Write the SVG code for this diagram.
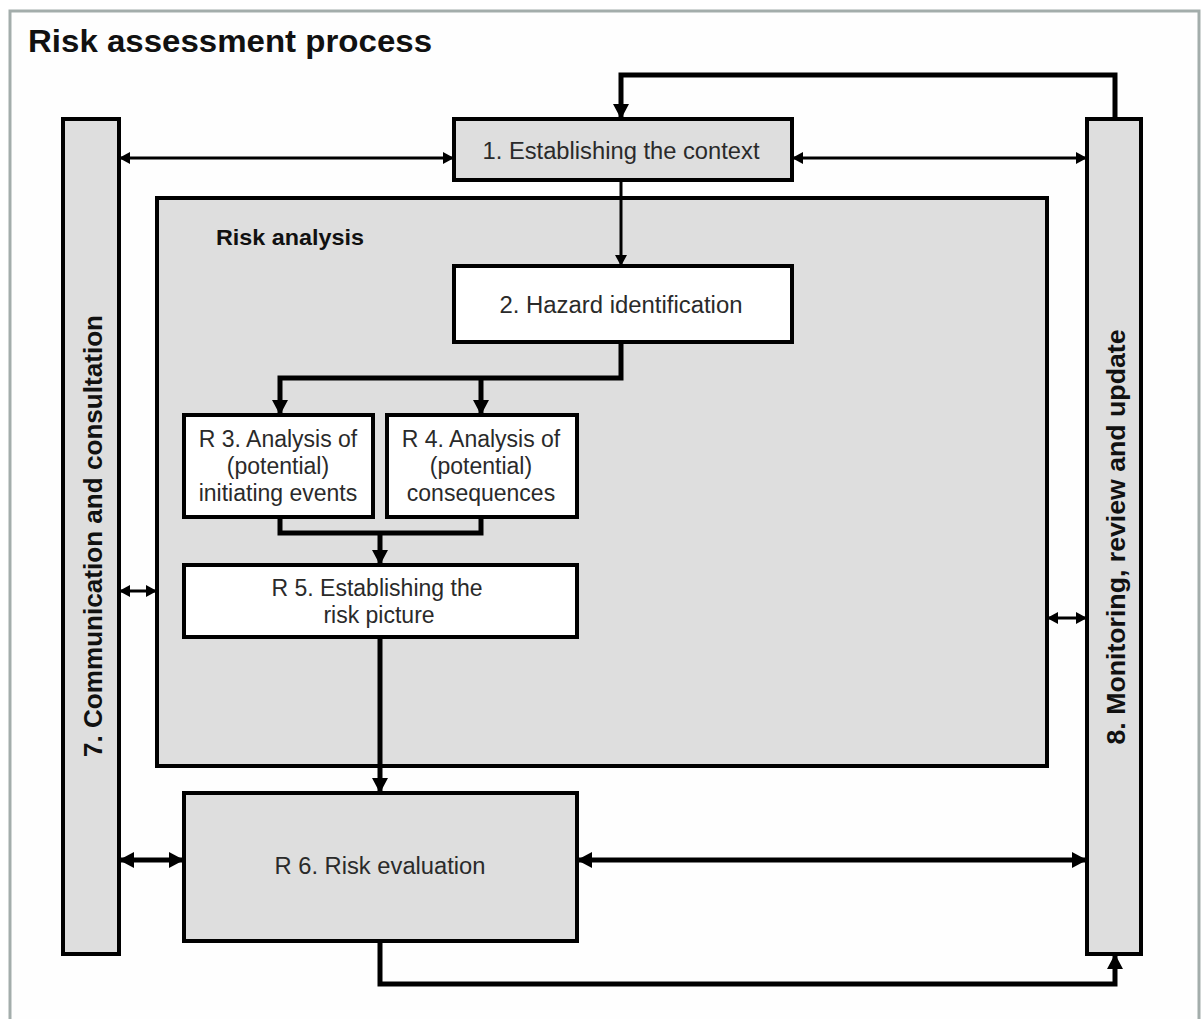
<svg xmlns="http://www.w3.org/2000/svg" width="1204" height="1019" viewBox="0 0 1204 1019">
  <style>
    .box { stroke: #000; stroke-width: 4; }
    .gray { fill: #dedede; }
    .white { fill: #ffffff; }
    .lbl { font-family: "Liberation Sans", Arial, sans-serif; font-size: 23px; fill: #2a2a2a; text-anchor: middle; }
    .bold { font-family: "Liberation Sans", Arial, sans-serif; font-weight: bold; fill: #111; }
    .thin { fill: none; stroke: #000; stroke-width: 3; }
    .thick { fill: none; stroke: #000; stroke-width: 5; }
  </style>
  <defs>
    <marker id="as" markerUnits="userSpaceOnUse" markerWidth="12" markerHeight="12" refX="11" refY="6" orient="auto-start-reverse">
      <path d="M0,0 L11,6 L0,12 z" fill="#000"/>
    </marker>
    <marker id="al" markerUnits="userSpaceOnUse" markerWidth="16" markerHeight="16" refX="15" refY="8" orient="auto-start-reverse">
      <path d="M0,0 L15,8 L0,16 z" fill="#000"/>
    </marker>
  </defs>

  <rect x="0" y="0" width="1204" height="1019" fill="#ffffff"/>
  <rect id="frame" x="10" y="11" width="1189" height="1030" fill="#fefefe" stroke="#a3adab" stroke-width="3"/>

  <text id="title" class="bold" x="28" y="52" font-size="32" textLength="404" lengthAdjust="spacingAndGlyphs">Risk assessment process</text>

  <g id="node-7">
    <rect class="box gray" x="63" y="119" width="56" height="835"/>
    <text class="bold" font-size="25" transform="translate(102,536) rotate(-90)" text-anchor="middle" textLength="442" lengthAdjust="spacingAndGlyphs">7. Communication and consultation</text>
  </g>

  <g id="node-8">
    <rect class="box gray" x="1087" y="119" width="54" height="835"/>
    <text class="bold" font-size="25" transform="translate(1125,537) rotate(-90)" text-anchor="middle" textLength="415" lengthAdjust="spacingAndGlyphs">8. Monitoring, review and update</text>
  </g>

  <g id="node-1">
    <rect class="box gray" x="454" y="119" width="338" height="61"/>
    <text class="lbl" x="621" y="159" textLength="277" lengthAdjust="spacingAndGlyphs">1. Establishing the context</text>
  </g>

  <g id="risk-analysis">
    <rect class="box gray" x="157" y="198" width="890" height="568" stroke-width="3"/>
    <text class="bold" x="216" y="245" font-size="22" textLength="148" lengthAdjust="spacingAndGlyphs">Risk analysis</text>
  </g>

  <g id="node-2">
    <rect class="box white" x="454" y="266" width="338" height="76"/>
    <text class="lbl" x="621" y="313" textLength="243" lengthAdjust="spacingAndGlyphs">2. Hazard identification</text>
  </g>

  <g id="node-r3">
    <rect class="box white" x="184" y="415" width="189" height="102"/>
    <text class="lbl" x="278" y="447">R 3. Analysis of</text>
    <text class="lbl" x="278" y="474">(potential)</text>
    <text class="lbl" x="278" y="501">initiating events</text>
  </g>

  <g id="node-r4">
    <rect class="box white" x="387" y="415" width="190" height="102"/>
    <text class="lbl" x="481" y="447">R 4. Analysis of</text>
    <text class="lbl" x="481" y="474">(potential)</text>
    <text class="lbl" x="481" y="501">consequences</text>
  </g>

  <g id="node-r5">
    <rect class="box white" x="184" y="565" width="393" height="72"/>
    <text class="lbl" x="377" y="596">R 5. Establishing the</text>
    <text class="lbl" x="379" y="623">risk picture</text>
  </g>

  <g id="node-r6">
    <rect class="box gray" x="184" y="793" width="393" height="148"/>
    <text class="lbl" x="380" y="874" textLength="211" lengthAdjust="spacingAndGlyphs">R 6. Risk evaluation</text>
  </g>

  <g id="connectors">
    <path class="thick" d="M1115,119 V75 H621 V119" marker-end="url(#al)"/>
    <path class="thin" d="M119,158 H454" marker-start="url(#as)" marker-end="url(#as)"/>
    <path class="thin" d="M792,158 H1087" marker-start="url(#as)" marker-end="url(#as)"/>
    <path class="thin" d="M621,180 V266" marker-end="url(#as)"/>
    <path class="thick" d="M621,342 V378 H280 V415" marker-end="url(#al)"/>
    <path class="thick" d="M481,378 V415" marker-end="url(#al)"/>
    <path class="thick" d="M280,517 V533 H481 V517"/>
    <path class="thick" d="M380,533 V565" marker-end="url(#al)"/>
    <path class="thick" d="M380,637 V793" stroke-width="4" marker-end="url(#al)"/>
    <path class="thin" d="M119,591 H157" marker-start="url(#as)" marker-end="url(#as)"/>
    <path class="thin" d="M1047,618 H1087" marker-start="url(#as)" marker-end="url(#as)"/>
    <path class="thick" d="M119,860 H184" marker-start="url(#al)" marker-end="url(#al)"/>
    <path class="thick" d="M577,860 H1087" stroke-width="4" marker-start="url(#al)" marker-end="url(#al)"/>
    <path class="thick" d="M380,941 V984 H1115 V954" stroke-width="6" marker-end="url(#al)"/>
  </g>
</svg>
